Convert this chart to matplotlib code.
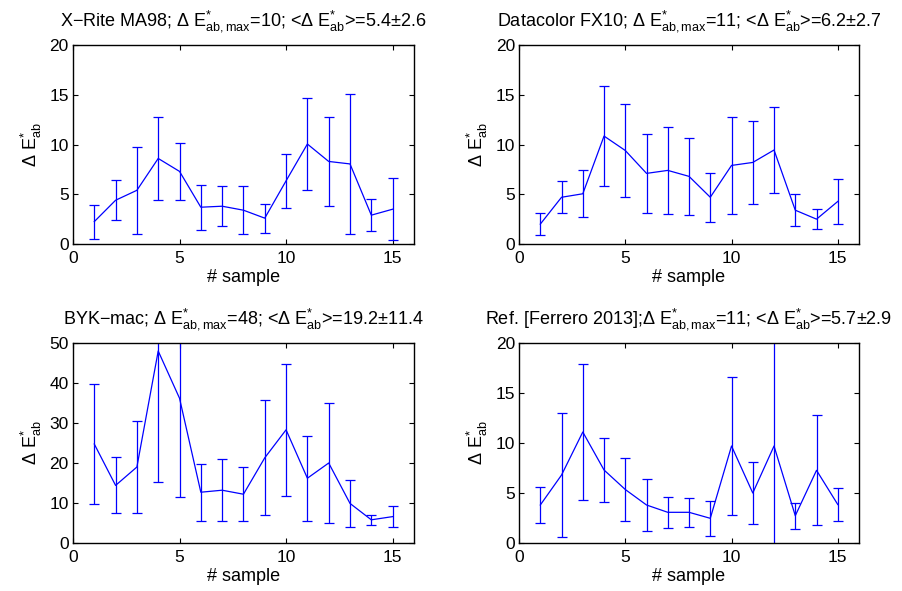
import numpy as np
import matplotlib
matplotlib.use("Agg")
import matplotlib.pyplot as plt

plt.rcParams["font.family"] = ["Liberation Sans", "DejaVu Sans"]
plt.rcParams["mathtext.fontset"] = "custom"
plt.rcParams["mathtext.rm"] = "Liberation Sans"
plt.rcParams["mathtext.it"] = "Liberation Sans:italic"
plt.rcParams["mathtext.bf"] = "Liberation Sans:bold"

samples = np.arange(1, 16)

# X-Rite MA98
xrite_mean = [2.25, 4.4, 5.4, 8.6, 7.3, 3.7, 3.8, 3.4, 2.6, 6.35, 10.05, 8.3, 8.05, 2.9, 3.5]
xrite_err = [1.7, 2.0, 4.4, 4.2, 2.85, 2.25, 2.0, 2.4, 1.47, 2.7, 4.6, 4.5, 7.05, 1.63, 3.1]

# Datacolor FX10
dc_mean = [2.0, 4.7, 5.05, 10.85, 9.4, 7.1, 7.4, 6.8, 4.7, 7.9, 8.2, 9.45, 3.4, 2.5, 4.28]
dc_err = [1.1, 1.6, 2.35, 5.05, 4.7, 4.0, 4.35, 3.85, 2.45, 4.9, 4.15, 4.35, 1.6, 1.0, 2.25]

# BYK-mac
byk_mean = [24.75, 14.4, 19.0, 48.0, 36.2, 12.7, 13.2, 12.2, 21.3, 28.3, 16.2, 20.0, 9.9, 5.8, 6.6]
byk_err = [15.1, 7.0, 11.5, 32.8, 24.6, 7.1, 7.8, 6.75, 14.4, 16.5, 10.6, 14.9, 5.8, 1.2, 2.65]

# Ref. [Ferrero 2013]
ref_mean = [3.8, 6.8, 11.1, 7.3, 5.35, 3.8, 3.07, 3.07, 2.47, 9.7, 5.0, 9.7, 2.73, 7.27, 3.85]
ref_err = [1.8, 6.2, 6.8, 3.17, 3.15, 2.6, 1.55, 1.45, 1.73, 6.93, 3.1, 11.0, 1.28, 5.5, 1.65]

titles = [
    r"X$-$Rite MA98; Δ E$^{*}_{\mathrm{ab,max}}$=10; <Δ E$^{*}_{\mathrm{ab}}$>=5.4±2.6",
    r"Datacolor FX10; Δ E$^{*}_{\mathrm{ab,max}}$=11; <Δ E$^{*}_{\mathrm{ab}}$>=6.2±2.7",
    r"BYK$-$mac; Δ E$^{*}_{\mathrm{ab,max}}$=48; <Δ E$^{*}_{\mathrm{ab}}$>=19.2±11.4",
    r"Ref. [Ferrero 2013];Δ E$^{*}_{\mathrm{ab,max}}$=11; <Δ E$^{*}_{\mathrm{ab}}$>=5.7±2.9",
]
means = [xrite_mean, dc_mean, byk_mean, ref_mean]
errs = [xrite_err, dc_err, byk_err, ref_err]
ymax = [20, 20, 50, 20]

fig = plt.figure(figsize=(9.03, 5.91), dpi=100)

positions = [
    [0.0808, 0.5871, 0.3776, 0.3367],
    [0.5748, 0.5871, 0.3765, 0.3367],
    [0.0808, 0.0812, 0.3776, 0.3384],
    [0.5748, 0.0812, 0.3765, 0.3384],
]

for i in range(4):
    ax = fig.add_axes(positions[i])
    ax.errorbar(samples, means[i], yerr=errs[i], color="blue", lw=0.9,
                elinewidth=0.9, capsize=3.5, capthick=0.9)
    ax.set_xlim(0, 16)
    ax.set_ylim(0, ymax[i])
    ax.set_xticks([0, 5, 10, 15])
    if ymax[i] == 50:
        ax.set_yticks([0, 10, 20, 30, 40, 50])
    else:
        ax.set_yticks([0, 5, 10, 15, 20])
    ax.tick_params(direction="in", top=True, right=True, length=3.5,
                   width=0.8, labelsize=12.5, pad=3)
    ax.tick_params(axis="x", pad=5)
    for s in ax.spines.values():
        s.set_linewidth(1.0)
    ax.set_title(titles[i], fontsize=13, pad=14)
    ax.set_xlabel("# sample", fontsize=13, labelpad=2)
    ax.set_ylabel(r"Δ E$^{*}_{\mathrm{ab}}$", fontsize=13, labelpad=4)

plt.savefig("out.png", dpi=100)
